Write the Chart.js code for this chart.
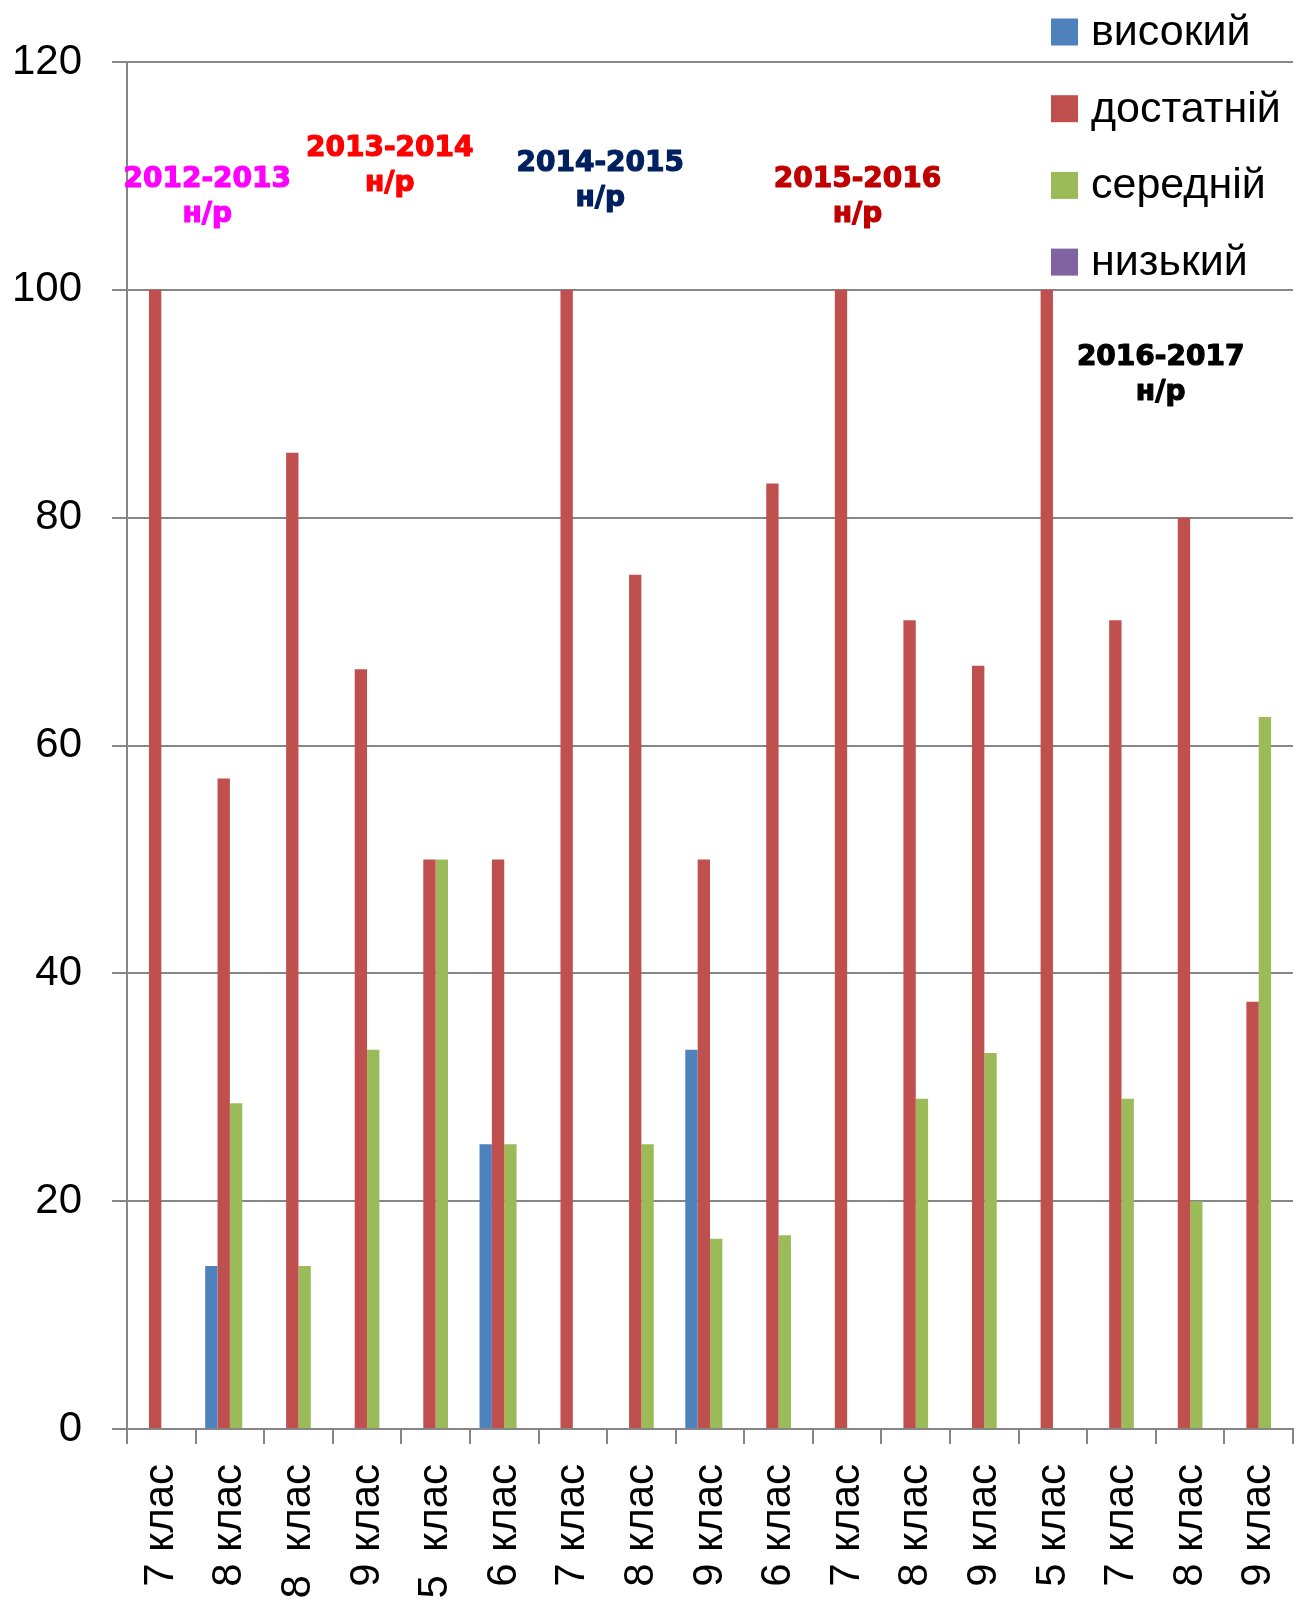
<!DOCTYPE html>
<html>
<head>
<meta charset="utf-8">
<script src="https://cdn.jsdelivr.net/npm/chart.js@4"></script>
<style>
  html, body { margin: 0; padding: 0; background: #fff; }
  #wrap { width: 1297px; height: 1604px; position: relative; }
</style>
</head>
<body>
<div id="wrap"><canvas id="levels"></canvas></div>
<script>
const classes = ['7 клас', '8 клас', '8  клас', '9 клас', '5  клас', '6 клас', '7 клас', '8 клас', '9 клас',
  '6 клас', '7 клас', '8 клас', '9 клас', '5 клас', '7 клас', '8 клас', '9 клас'];
const high =       [0, 14.3, 0, 0, 0, 25, 0, 0, 33.3, 0, 0, 0, 0, 0, 0, 0, 0];
const sufficient = [100, 57.1, 85.7, 66.7, 50, 50, 100, 75, 50, 83, 100, 71, 67, 100, 71, 80, 37.5];
const medium =     [0, 28.6, 14.3, 33.3, 50, 25, 0, 25, 16.7, 17, 0, 29, 33, 0, 29, 20, 62.5];
const low =        [0, 0, 0, 0, 0, 0, 0, 0, 0, 0, 0, 0, 0, 0, 0, 0, 0];
const yTicks = [0, 20, 40, 60, 80, 100, 120];

// school year captions: category position + value position
const years = ['2012-2013', '2013-2014', '2014-2015', '2015-2016', '2016-2017'];
const yearX = [0.67, 3.33, 6.4, 10.15, 14.57];
const yearY = [109.7, 112.4, 111.1, 109.7, 94.0];
const yearColor = ['#FF00FF', '#FF0000', '#002060', '#C00000', '#000000'];

const gridGray = '#868686';

const yearLabels = {
  id: 'yearLabels',
  afterDatasetsDraw(chart) {
    const { ctx, scales: { x, y } } = chart;
    ctx.save();
    ctx.font = 'bold 28px "DejaVu Sans"';
    ctx.textAlign = 'center';
    ctx.textBaseline = 'middle';
    ctx.lineWidth = 1.2;
    ctx.lineJoin = 'round';
    years.forEach((yr, i) => {
      const px = x.getPixelForValue(yearX[i]);
      const py = y.getPixelForValue(yearY[i]);
      ctx.fillStyle = yearColor[i];
      ctx.strokeStyle = yearColor[i];
      ctx.fillText(yr, px, py);
      ctx.strokeText(yr, px, py);
      ctx.fillText('н/р', px, py + 35);
      ctx.strokeText('н/р', px, py + 35);
    });
    ctx.restore();
  }
};

const sideLegend = {
  id: 'sideLegend',
  afterDraw(chart) {
    const ctx = chart.ctx;
    ctx.save();
    ctx.font = '43px "Liberation Sans"';
    ctx.textBaseline = 'middle';
    chart.data.datasets.forEach((ds, i) => {
      const cy = 32 + i * 76.7;
      ctx.fillStyle = ds.backgroundColor;
      ctx.fillRect(1051, cy - 13.5, 27, 27);
      ctx.fillStyle = '#000';
      ctx.fillText(ds.label, 1091, cy + 1);
    });
    ctx.restore();
  }
};

new Chart(document.getElementById('levels'), {
  type: 'bar',
  data: {
    labels: classes,
    datasets: [
      { label: 'високий', data: high, backgroundColor: '#4F81BD' },
      { label: 'достатній', data: sufficient, backgroundColor: '#C0504D' },
      { label: 'середній', data: medium, backgroundColor: '#9BBB59' },
      { label: 'низький', data: low, backgroundColor: '#8064A2' }
    ]
  },
  options: {
    responsive: true,
    maintainAspectRatio: false,
    devicePixelRatio: 1,
    animation: false,
    layout: { padding: { top: 62, right: 4, left: 0, bottom: 0 } },
    datasets: {
      bar: { categoryPercentage: 0.72, barPercentage: 1.0, borderWidth: 0 }
    },
    scales: {
      y: {
        min: 0,
        max: 120,
        afterBuildTicks: (axis) => { axis.ticks = yTicks.map(v => ({ value: v })); },
        afterFit: (axis) => { axis.width = 127; },
        ticks: {
          color: '#000',
          padding: 30,
          font: { family: 'Liberation Sans', size: 42 }
        },
        grid: { color: gridGray, lineWidth: 2, tickLength: 15 },
        border: { color: gridGray, width: 2 }
      },
      x: {
        afterFit: (axis) => {
          axis.height = 175;
          axis.paddingLeft = 0;
          axis.paddingRight = 0;
        },
        ticks: {
          color: '#000',
          minRotation: 90,
          maxRotation: 90,
          autoSkip: false,
          padding: 20,
          font: { family: 'Liberation Sans', size: 42 }
        },
        grid: { drawOnChartArea: false, color: gridGray, lineWidth: 2, tickLength: 15, offset: true },
        border: { color: gridGray, width: 2 }
      }
    },
    plugins: {
      legend: { display: false },
      tooltip: { enabled: false }
    }
  },
  plugins: [yearLabels, sideLegend]
});
</script>
</body>
</html>
